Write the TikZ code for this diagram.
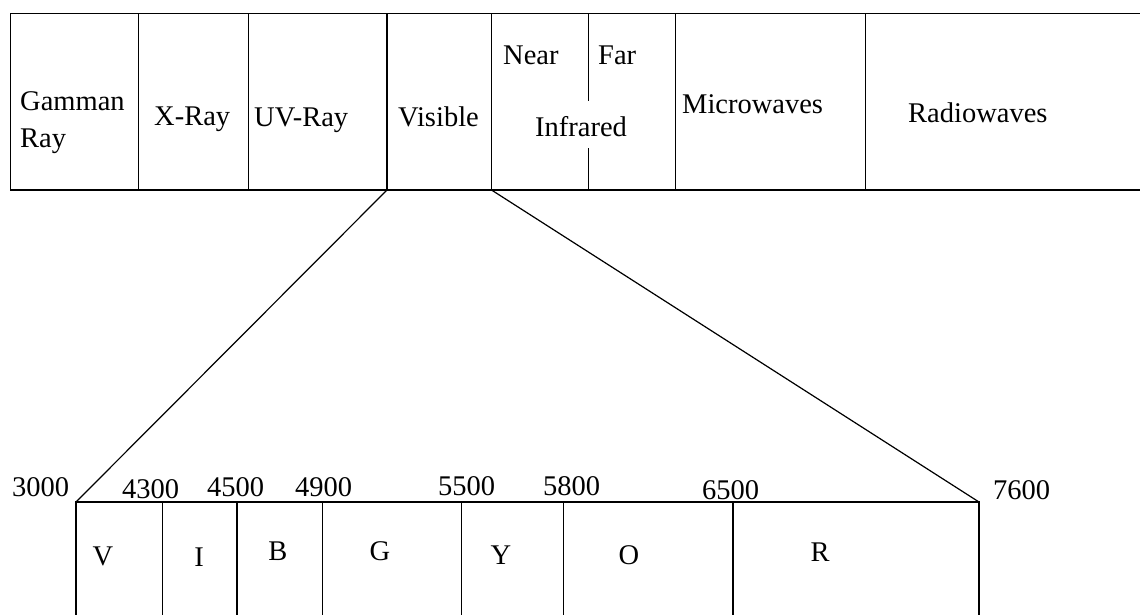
\documentclass[tikz,border=0pt]{standalone}
\usepackage{fontspec}
\setmainfont{Liberation Serif}
\begin{document}
\begin{tikzpicture}[x=1pt,y=-1pt,
  cell/.style={draw, line width=1.8pt, rectangle, inner sep=0pt, outer sep=0pt, anchor=north west},
  topcell/.style={cell, minimum height=176.5pt},
  lowcell/.style={cell, minimum height=120pt},
  split/.style={line width=1.8pt},
  txt/.style={inner sep=0pt, anchor=base west, font=\fontsize{28.5}{34}\selectfont},
  ctxt/.style={txt, anchor=base},
  zoomline/.style={line width=1.2pt}]
\useasboundingbox (0,0) rectangle (1140,614);

% electromagnetic spectrum band
\node[topcell, minimum width=128pt]   (gamma) at (10.5,13.5) {};
\node[topcell, minimum width=110pt]   (xray)  at (138.5,13.5) {};
\node[topcell, minimum width=138.5pt] (uv)    at (248.5,13.5) {};
\node[topcell, minimum width=104.5pt] (vis)   at (387,13.5) {};
\node[topcell, minimum width=184pt]   (ir)    at (491.5,13.5) {};
\node[topcell, minimum width=190pt]   (micro) at (675.5,13.5) {};
\node[topcell, minimum width=290pt]   (radio) at (865.5,13.5) {};

% near / far split inside the infrared cell
\coordinate (irtop) at (588.5,13.5);
\coordinate (irmidA) at (588.5,101);
\coordinate (irmidB) at (588.5,148);
\coordinate (irbot) at (588.5,190);
\draw[split] (irtop) -- (irmidA);
\draw[split] (irmidB) -- (irbot);

\node[txt] (tgamma1) at (20,110) {Gamman};
\node[txt] (tgamma2) at (20,147) {Ray};
\node[txt] (txray)   at (154,125.5) {X-Ray};
\node[txt] (tuv)     at (254,126.5) {UV-Ray};
\node[txt] (tvis)    at (398,126.5) {Visible};
\node[txt] (tnear)   at (503,64) {Near};
\node[txt] (tfar)    at (598,64) {Far};
\node[txt] (tir)     at (535,136) {Infrared};
\node[txt] (tmicro)  at (682,113) {Microwaves};
\node[txt] (tradio)  at (908,122.5) {Radiowaves};

% visible band, enlarged
\node[lowcell, minimum width=86.5pt]  (cv) at (76,502) {};
\node[lowcell, minimum width=74.5pt]  (ci) at (162.5,502) {};
\node[lowcell, minimum width=85.5pt]  (cb) at (237,502) {};
\node[lowcell, minimum width=139pt]   (cg) at (322.5,502) {};
\node[lowcell, minimum width=102pt]   (cy) at (461.5,502) {};
\node[lowcell, minimum width=169.5pt] (co) at (563.5,502) {};
\node[lowcell, minimum width=246pt]   (cr) at (733,502) {};

\node[ctxt] (lv) at (103,565) {V};
\node[ctxt] (li) at (199,566) {I};
\node[ctxt] (lb) at (278,560) {B};
\node[ctxt] (lg) at (380,560) {G};
\node[ctxt] (ly) at (501,564) {Y};
\node[ctxt] (lo) at (629,564) {O};
\node[ctxt] (lr) at (820,561.5) {R};

% wavelength marks
\node[txt] (n3000) at (12,496) {3000};
\node[txt] (n4300) at (122,498) {4300};
\node[txt] (n4500) at (207,496.5) {4500};
\node[txt] (n4900) at (295,496.5) {4900};
\node[txt] (n5500) at (438,495) {5500};
\node[txt] (n5800) at (543,495) {5800};
\node[txt] (n6500) at (702,499) {6500};
\node[txt] (n7600) at (993,499) {7600};

% zoom lines from the visible cell to the enlarged band
\draw[zoomline] (vis.south west) -- (cv.north west);
\draw[zoomline] (vis.south east) -- (cr.north east);
\end{tikzpicture}
\end{document}
